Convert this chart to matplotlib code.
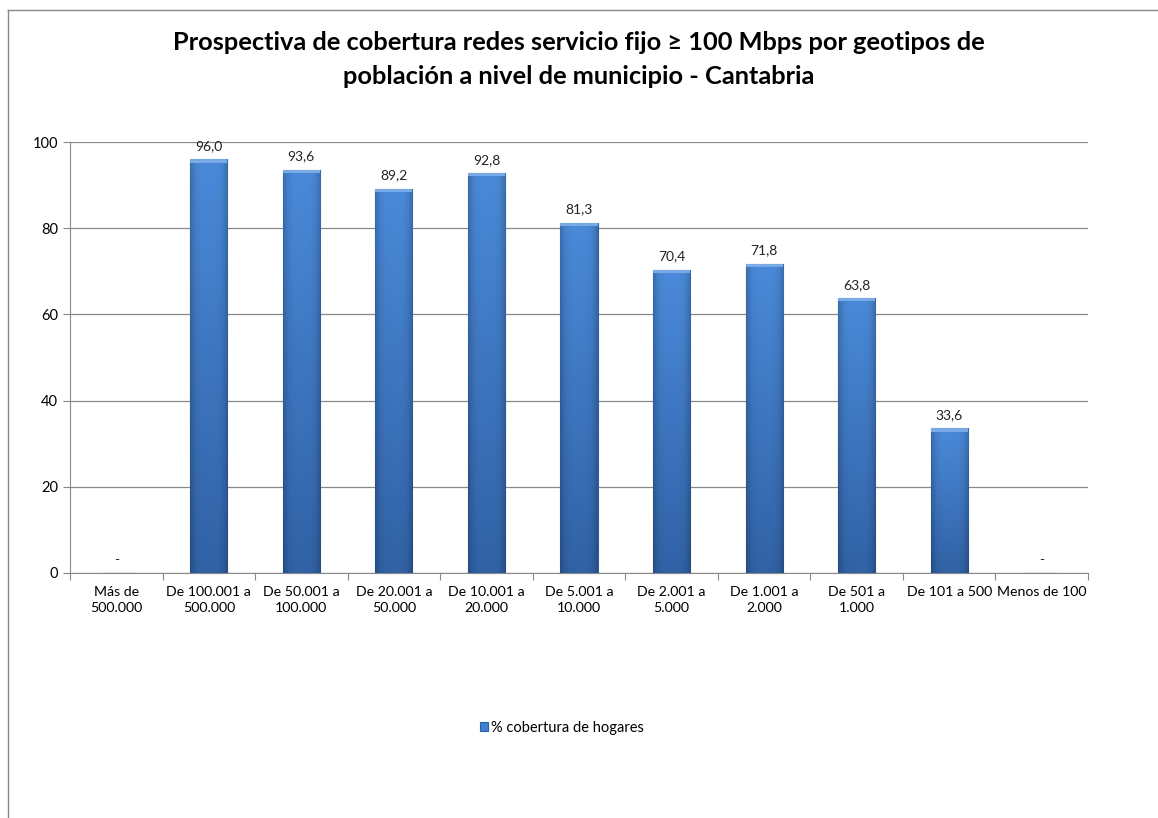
import numpy as np
import matplotlib.pyplot as plt
from matplotlib.lines import Line2D

categorias = ['Más de\n500.000', 'De 100.001 a\n500.000', 'De 50.001 a\n100.000',
              'De 20.001 a\n50.000', 'De 10.001 a\n20.000', 'De 5.001 a\n10.000',
              'De 2.001 a\n5.000', 'De 1.001 a\n2.000', 'De 501 a\n1.000',
              'De 101 a 500', 'Menos de 100']
cobertura = [0.0, 96.0, 93.6, 89.2, 92.8, 81.3, 70.4, 71.8, 63.8, 33.6, 0.0]
etiquetas = ['-', '96,0', '93,6', '89,2', '92,8', '81,3', '70,4', '71,8', '63,8', '33,6', '-']

plt.rcParams['font.family'] = ['Lato', 'DejaVu Sans']

fig = plt.figure(figsize=(11.58, 8.18), dpi=100, facecolor='w')
ax = fig.add_axes([70 / 1158, 1 - 573 / 818, (1088 - 70) / 1158, (573 - 142) / 818])

x = np.arange(len(categorias))
bars = ax.bar(x, cobertura, width=0.4, color='#3d7fd3', edgecolor='#2f5f9e',
              linewidth=0.8, zorder=3, label='% cobertura de hogares')

# shading: lighter on top, darker at the bottom, darker side edges
top = np.array([0x4a, 0x8a, 0xd9]) / 255
bot = np.array([0x31, 0x62, 0xa6]) / 255
ny, nx = 100, 40
t = np.linspace(0, 1, ny)[:, None, None]
vert = top * (1 - t) + bot * t
u = np.linspace(-1, 1, nx)[None, :, None]
side = 1 - 0.22 * np.abs(u) ** 4
for b in bars:
    if b.get_height() <= 0:
        continue
    x0, w, h = b.get_x(), b.get_width(), b.get_height()
    img = np.clip(vert * side, 0, 1)
    im = ax.imshow(img, extent=(x0, x0 + w, 0, h), aspect='auto', zorder=3.5,
                   interpolation='bilinear', origin='upper')
    im.set_clip_path(b)
    # bevel on top
    ax.fill_between([x0, x0 + w], h - 0.8, h, color='#7aaae6', lw=0, zorder=4)

for xi, v, t_ in zip(x, cobertura, etiquetas):
    ax.annotate(t_, (xi, v), xytext=(0, 5), textcoords='offset points',
                ha='center', va='bottom', fontsize=10, color='#222222')

ax.set_xlim(-0.5, len(categorias) - 0.5)
ax.set_ylim(0, 100)
ax.set_yticks(range(0, 101, 20))
ax.set_xticks(np.arange(-0.5, len(categorias), 1), minor=False)
ax.set_xticklabels([])
ax.set_xticks(x, minor=True)
ax.set_xticklabels(categorias, minor=True, fontsize=10.2, linespacing=1.45)
ax.tick_params(axis='x', which='minor', length=0, pad=9)
ax.tick_params(axis='x', which='major', length=5, color='#888888')
ax.tick_params(axis='y', length=5, color='#888888', labelsize=10.5)
ax.grid(axis='y', color='#888888', linewidth=0.9, zorder=0)
for s in ['top', 'right']:
    ax.spines[s].set_visible(False)
for s in ['left', 'bottom']:
    ax.spines[s].set_color('#888888')

fig.suptitle('Prospectiva de cobertura redes servicio fijo ≥ 100 Mbps por geotipos de\n'
             'población a nivel de municipio - Cantabria',
             x=0.5, y=1 - 31 / 818, fontsize=18.3, fontweight='bold', linespacing=1.6,
             va='top', family=['Lato', 'DejaVu Sans'])

fig.legend(handles=[bars], loc='center', bbox_to_anchor=(562 / 1158, 1 - 728 / 818),
           frameon=False, fontsize=10.5, handlelength=0.6, handleheight=0.6,
           handletextpad=0.2)

# chart frame
fig.add_artist(Line2D([8 / 1158, 1], [1 - 10 / 818, 1 - 10 / 818], color='#888888', lw=1))
fig.add_artist(Line2D([8 / 1158, 8 / 1158], [0, 1 - 10 / 818], color='#888888', lw=1))

plt.savefig('out.png', dpi=100, facecolor='w')
